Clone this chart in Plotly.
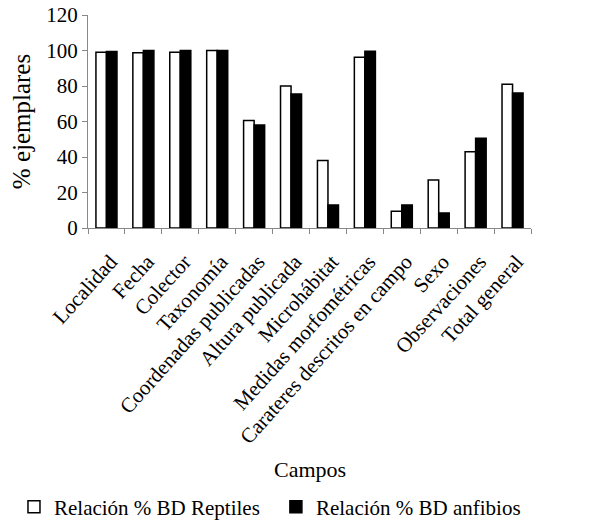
import plotly.graph_objects as go

categories = ["Localidad", "Fecha", "Colector", "Taxonomía", "Coordenadas publicadas",
              "Altura publicada", "Microhábitat", "Medidas morfométricas",
              "Carateres descritos en campo", "Sexo", "Observaciones", "Total general"]
reptiles = [99, 98.7, 99, 100, 60.5, 80, 38, 96.2, 9.5, 27, 43, 81]
anfibios = [99.5, 100, 100, 100, 58, 75.5, 13, 99.6, 13, 8.5, 50.5, 76]
name_rep = "Relación % BD Reptiles"
name_anf = "Relación % BD anfibios"
y_ticks = [0, 20, 40, 60, 80, 100, 120]

FONT = "Liberation Serif, Times New Roman, serif"

fig = go.Figure()
fig.add_trace(go.Bar(x=categories, y=reptiles, name=name_rep, legend="legend",
                     marker=dict(color="white", line=dict(color="black", width=1.5))))
fig.add_trace(go.Bar(x=categories, y=anfibios, name=name_anf, legend="legend2",
                     marker=dict(color="black", line=dict(color="black", width=1.5))))

legend_common = dict(orientation="h", xanchor="left", xref="container",
                     y=0.031, yanchor="middle", yref="container",
                     font=dict(family=FONT, size=21, color="black"),
                     itemwidth=30, bgcolor="rgba(0,0,0,0)")

fig.update_layout(
    width=598, height=515,
    margin=dict(l=80, r=75, t=7, b=295),
    paper_bgcolor="white", plot_bgcolor="white",
    font=dict(family=FONT, size=21, color="black"),
    barmode="group", bargap=0.43, bargroupgap=0,
    showlegend=True,
    legend=dict(x=0.010, **legend_common),
    legend2=dict(x=0.448, **legend_common),
    annotations=[dict(text="Campos", x=0.5, xref="paper", y=-1.136, yref="paper",
                      showarrow=False, xanchor="center", yanchor="middle",
                      font=dict(family=FONT, size=22, color="black"))],
)
fig.update_xaxes(showline=True, linecolor="#888888", linewidth=1.2,
                 ticks="outside", tickson="boundaries", ticklen=5, tickcolor="#888888",
                 tickangle=-48, tickfont=dict(family=FONT, size=21),
                 ticklabelshift=4, ticklabelstandoff=12,
                 showgrid=False, automargin=False)
fig.update_yaxes(range=[0, 120], tickvals=y_ticks, showline=True, linecolor="#888888",
                 linewidth=1.2, ticks="outside", ticklen=5, tickcolor="#888888",
                 showgrid=False, zeroline=False, ticklabeloverflow="allow",
                 title=dict(text="% ejemplares", font=dict(family=FONT, size=25), standoff=9),
                 tickfont=dict(family=FONT, size=21), automargin=False)

fig.write_html("out.html")
